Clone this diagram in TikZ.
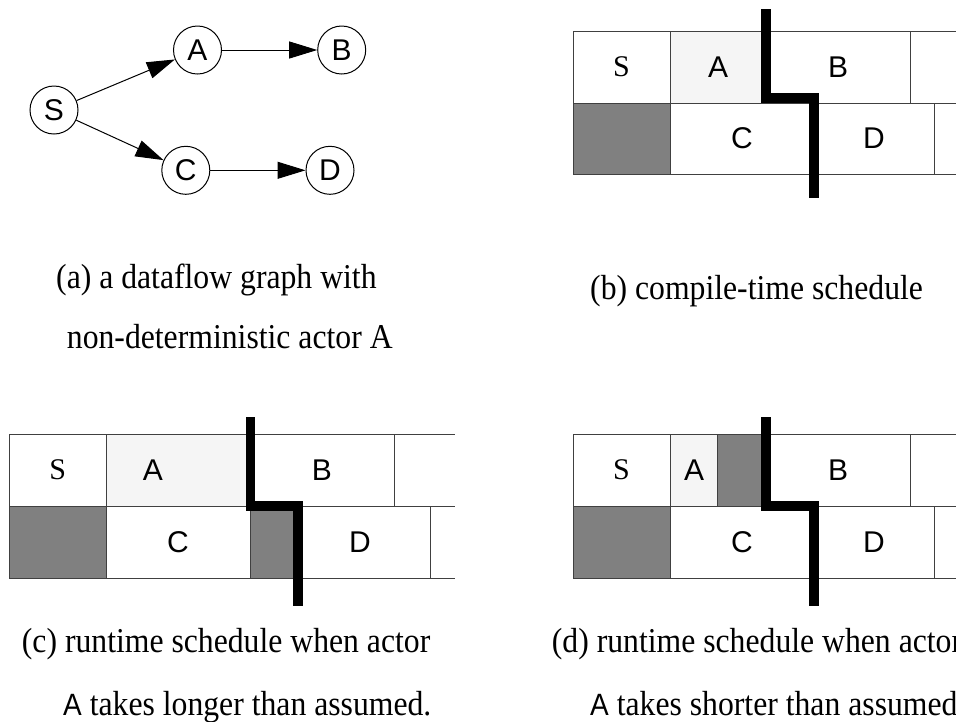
\documentclass[tikz,border=0pt]{standalone}
\usepackage{fontspec}
\usepackage{graphicx}
\setmainfont{Liberation Serif}
\setsansfont{Liberation Sans}
\usetikzlibrary{arrows.meta}
\newcommand{\tallcap}[1]{\scalebox{1}[1.1]{#1}}
\begin{document}
\begin{tikzpicture}[x=1pt,y=-1pt,
  actor/.style={circle,draw,line width=1pt,minimum size=48pt,inner sep=0pt,font=\sffamily\fontsize{30}{30}\selectfont},
  flow/.style={line width=1pt,-{Triangle[length=28pt,width=17pt]}},
  cell/.style={draw=black!75,line width=1pt},
  lbl/.style={font=\sffamily\fontsize{30}{30}\selectfont,inner sep=0pt},
  slbl/.style={font=\fontsize{30}{30}\selectfont,inner sep=0pt},
  captxt/.style={font=\fontsize{31.7}{31.7}\selectfont,inner sep=0pt,anchor=base west},
  cut/.style={line width=9.4pt,line join=miter},
  idle/.style={fill=black!50},
  lite/.style={fill=black!4}]
\clip (0,0) rectangle (956,721);
\fill[white] (0,0) rectangle (956,721);

% (a) dataflow graph
\node[actor] (S) at (54,110) {S};
\node[actor] (A) at (197.5,50) {A};
\node[actor] (B) at (341.7,50) {B};
\node[actor] (C) at (185.8,170.3) {C};
\node[actor] (D) at (330,170.3) {D};
\draw[flow] (S) -- (A);
\draw[flow] (S) -- (C);
\draw[flow] (A) -- (B);
\draw[flow] (C) -- (D);
\node[captxt] (capa1) at (56,288) {\tallcap{(a) a dataflow graph with}};
\node[captxt] (capa2) at (66.7,348) {\tallcap{non-deterministic actor A}};

% (b) compile-time schedule
\fill[lite] (670,31) rectangle (766,103);
\fill[idle] (573,103) rectangle (670,174);
\draw[cell] (573,31) -- (956,31) (573,103) -- (956,103) (573,174) -- (956,174);
\draw[cell] (573,31) -- (573,174) (670,31) -- (670,174) (910,31) -- (910,103)
  (814,103) -- (814,174) (934,103) -- (934,174);
\node[slbl] (bS) at (621.5,67) {S};
\node[lbl] (bA) at (718,67) {A};
\node[lbl] (bB) at (838,67) {B};
\node[lbl] (bC) at (742,138.5) {C};
\node[lbl] (bD) at (874,138.5) {D};
\draw[cut] (766,9.3) -- (766,98) -- (814,98) -- (814,198.3);
\node[captxt] (capb) at (590,299) {\tallcap{(b) compile-time schedule}};

% (c) runtime schedule, A longer
\fill[lite] (106,434) rectangle (250.5,506);
\fill[idle] (9.3,506) rectangle (106,578);
\fill[idle] (250.5,506) rectangle (298,578);
\draw[cell] (9.3,434) -- (455,434) (9.3,506) -- (455,506) (9.3,578) -- (455,578);
\draw[cell] (9.3,434) -- (9.3,578) (106,434) -- (106,578) (394,434) -- (394,506)
  (250.5,506) -- (250.5,578) (430,506) -- (430,578);
\node[slbl] (cS) at (57.7,470) {S};
\node[lbl] (cA) at (153,470) {A};
\node[lbl] (cB) at (322,470) {B};
\node[lbl] (cC) at (178,542) {C};
\node[lbl] (cD) at (360,542) {D};
\draw[cut] (250.5,417) -- (250.5,506) -- (298,506) -- (298,606);
\node[captxt] (capc1) at (21.7,652) {\tallcap{(c) runtime schedule when actor}};
\node[captxt] (capc2) at (63,715) {\tallcap{{\sffamily\fontsize{28}{28}\selectfont A} takes longer than assumed.}};

% (d) runtime schedule, A shorter
\fill[lite] (670,434) rectangle (717.7,506);
\fill[idle] (717.7,434) rectangle (766,506);
\fill[idle] (573,506) rectangle (670,578);
\draw[cell] (573,434) -- (956,434) (573,506) -- (956,506) (573,578) -- (956,578);
\draw[cell] (573,434) -- (573,578) (670,434) -- (670,578) (717.7,434) -- (717.7,506)
  (910,434) -- (910,506) (934,506) -- (934,578);
\node[slbl] (dS) at (621.5,470) {S};
\node[lbl] (dA) at (694,470) {A};
\node[lbl] (dB) at (838,470) {B};
\node[lbl] (dC) at (742,542) {C};
\node[lbl] (dD) at (874,542) {D};
\draw[cut] (766,417) -- (766,506) -- (814,506) -- (814,606);
\node[captxt] (capd1) at (551.7,652) {\tallcap{(d) runtime schedule when actor}};
\node[captxt] (capd2) at (590,715) {\tallcap{{\sffamily\fontsize{28}{28}\selectfont A} takes shorter than assumed.}};
\end{tikzpicture}
\end{document}
